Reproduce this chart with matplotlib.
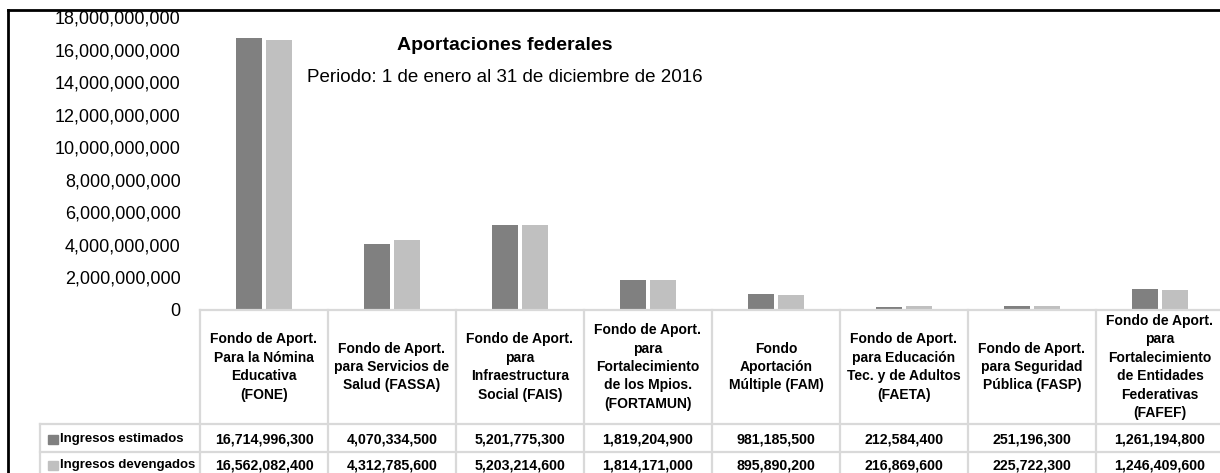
import numpy as np
import matplotlib
matplotlib.use("Agg")
import matplotlib.pyplot as plt
from matplotlib.lines import Line2D
from matplotlib.transforms import blended_transform_factory

plt.rcParams['font.family'] = ['Liberation Sans', 'DejaVu Sans']

categorias = ["Fondo de Aport.\nPara la Nómina\nEducativa\n(FONE)",
              "Fondo de Aport.\npara Servicios de\nSalud (FASSA)",
              "Fondo de Aport.\npara\nInfraestructura\nSocial (FAIS)",
              "Fondo de Aport.\npara\nFortalecimiento\nde los Mpios.\n(FORTAMUN)",
              "Fondo\nAportación\nMúltiple (FAM)",
              "Fondo de Aport.\npara Educación\nTec. y de Adultos\n(FAETA)",
              "Fondo de Aport.\npara Seguridad\nPública (FASP)",
              "Fondo de Aport.\npara\nFortalecimiento\nde Entidades\nFederativas\n(FAFEF)"]
estimados = [16714996300, 4070334500, 5201775300, 1819204900,
             981185500, 212584400, 251196300, 1261194800]
devengados = [16562082400, 4312785600, 5203214600, 1814171000,
              895890200, 216869600, 225722300, 1246409600]
series = ["Ingresos estimados", "Ingresos devengados"]
colores = ["#808080", "#c0c0c0"]

W, H = 1220, 473
fig = plt.figure(figsize=(12.2, 4.73), dpi=100)

def fy(p):
    # pixel row -> figure fraction
    return 1 - p / H

y0, y18 = 310, 17
x_left, col_w = 200, 128
n = len(categorias)
ax = fig.add_axes([x_left / W, fy(y0), n * col_w / W, (y0 - y18) / H])

x = np.arange(n)
bw = 0.205
ax.bar(x - bw / 2 - 0.012, estimados, bw, color=colores[0])
ax.bar(x + bw / 2 + 0.012, devengados, bw, color=colores[1])
ax.set_xlim(-0.5, n - 0.5)
ax.set_ylim(0, 18e9)
ax.set_yticks(np.arange(0, 18e9 + 1, 2e9))
ax.yaxis.set_major_formatter(matplotlib.ticker.FuncFormatter(lambda v, p: f"{v:,.0f}"))
ax.tick_params(axis='y', length=0, labelsize=13, pad=14)
ax.set_xticks([])
for s in ax.spines.values():
    s.set_visible(False)

fig.text(505 / W, fy(46), "Aportaciones federales", ha='center', va='center',
         fontsize=14, fontweight='bold')
fig.text(505 / W, fy(77), "Periodo: 1 de enero al 31 de diciembre de 2016",
         ha='center', va='center', fontsize=13.5)

# data table under the plot
tr = blended_transform_factory(ax.transData, fig.transFigure)
gc = "#d9d9d9"
r_head, r1, r2, r3 = 310, 424, 452, 480
for i in range(n + 1):
    fig.add_artist(Line2D([i - 0.5, i - 0.5], [fy(r_head), fy(r3)],
                          transform=tr, color=gc, lw=1.6))
fig.add_artist(Line2D([-0.5, n - 0.5], [fy(r_head), fy(r_head)],
                      transform=tr, color=gc, lw=1.6))
for r in (r1, r2):
    fig.add_artist(Line2D([40 / W, 1], [fy(r), fy(r)], color=gc, lw=1.6))
fig.add_artist(Line2D([40 / W, 40 / W], [fy(r1), fy(r3)], color=gc, lw=1.6))

for i, lab in enumerate(categorias):
    ax.text(i, fy(367), lab, transform=tr, ha='center', va='center',
            fontsize=10, fontweight='bold', linespacing=1.4)
for vals, ym_px, name, c in zip((estimados, devengados), (439, 465), series, colores):
    ym = fy(ym_px)
    for i, v in enumerate(vals):
        ax.text(i, ym, f"{v:,}", transform=tr, ha='center', va='center',
                fontsize=10.2, fontweight='bold')
    fig.add_artist(plt.Rectangle((48 / W, ym - 5 / H), 10 / W, 9 / H,
                                 color=c, transform=fig.transFigure))
    fig.text(60 / W, ym, name, ha='left', va='center', fontsize=9.5, fontweight='bold')

# outer frame (cut at right and bottom)
fig.add_artist(Line2D([8 / W, 8 / W], [0, fy(10)], color='black', lw=2))
fig.add_artist(Line2D([8 / W, 1], [fy(10), fy(10)], color='black', lw=2))

plt.savefig("out.png", dpi=100)
